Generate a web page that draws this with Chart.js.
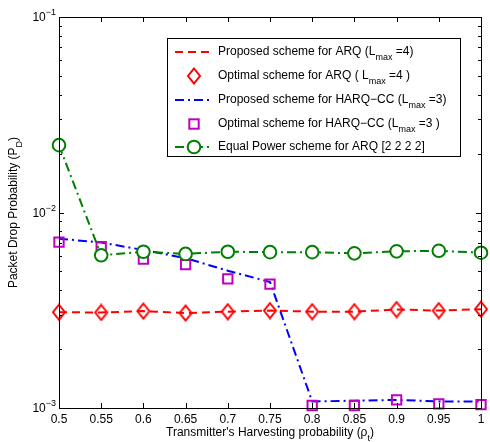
<!DOCTYPE html>
<html>
<head>
<meta charset="utf-8">
<script src="https://cdn.jsdelivr.net/npm/chart.js@4.4.1/dist/chart.umd.min.js"></script>
<style>
  html, body { margin: 0; padding: 0; background: #fff; }
  #wrap { width: 490px; height: 442px; position: relative; }
</style>
</head>
<body>
<div id="wrap"><canvas id="pdChart" width="490" height="442"></canvas></div>
<script>
// Harvesting probability (x axis)
const rhoValues = [0.5, 0.55, 0.6, 0.65, 0.7, 0.75, 0.8, 0.85, 0.9, 0.95, 1];
const xTickValues = [0.5, 0.55, 0.6, 0.65, 0.7, 0.75, 0.8, 0.85, 0.9, 0.95, 1];
const yDecades = [-3, -2, -1];

// Packet drop probability
const arqProposed = [3.09e-3, 3.08e-3, 3.13e-3, 3.06e-3, 3.11e-3, 3.15e-3, 3.11e-3, 3.11e-3, 3.19e-3, 3.15e-3, 3.20e-3];
const arqOptimal = [3.09e-3, 3.08e-3, 3.13e-3, 3.06e-3, 3.11e-3, 3.15e-3, 3.11e-3, 3.11e-3, 3.19e-3, 3.15e-3, 3.20e-3];
const harqProposed = [7.35e-3, 7.02e-3, 6.43e-3, 5.84e-3, 5.04e-3, 4.41e-3, 1.08e-3, 1.09e-3, 1.10e-3, 1.08e-3, 1.08e-3];
const harqOptimal = [7.06e-3, 6.68e-3, 5.77e-3, 5.41e-3, 4.58e-3, 4.30e-3, 1.03e-3, 1.03e-3, 1.10e-3, 1.05e-3, 1.04e-3];
const equalPower = [2.21e-2, 6.04e-3, 6.30e-3, 6.14e-3, 6.30e-3, 6.27e-3, 6.27e-3, 6.18e-3, 6.33e-3, 6.37e-3, 6.23e-3];

const FONT = '"Liberation Sans", Arial, Helvetica, sans-serif';
const RED = "#ff0000";
const BLUE = "#0000ff";
const MAGENTA = "#c000c0";
const GREEN = "#008000";

// MATLAB style diamond (taller than wide)
function makeDiamond(color) {
  const c = document.createElement("canvas");
  c.width = 16;
  c.height = 18;
  const g = c.getContext("2d");
  g.strokeStyle = color;
  g.lineWidth = 2;
  g.beginPath();
  g.moveTo(8, 1.5);
  g.lineTo(14, 9);
  g.lineTo(8, 16.5);
  g.lineTo(2, 9);
  g.closePath();
  g.stroke();
  return c;
}
const diamond = makeDiamond(RED);

function pairs(ys) {
  return rhoValues.map(function (x, i) { return { x: x, y: ys[i] }; });
}

// text with a sub/superscript part: parts = [[text, kind], ...]
function drawRich(ctx, parts, x, y, size) {
  let cx = x;
  parts.forEach(function (p) {
    const kind = p[1] || "n";
    const fs = kind === "n" ? size : Math.round(size * 0.75);
    ctx.font = fs + "px " + FONT;
    const dy = kind === "sub" ? size * 0.42 : kind === "sup" ? -size * 0.45 : 0;
    ctx.fillText(p[0], cx, y + dy);
    cx += ctx.measureText(p[0]).width;
  });
  return cx;
}

function richWidth(ctx, parts, size) {
  let w = 0;
  parts.forEach(function (p) {
    const kind = p[1] || "n";
    const fs = kind === "n" ? size : Math.round(size * 0.75);
    ctx.font = fs + "px " + FONT;
    w += ctx.measureText(p[0]).width;
  });
  return w;
}

const matlabAxes = {
  id: "matlabAxes",
  afterDraw(chart) {
    const ctx = chart.ctx;
    const a = chart.chartArea;
    const xs = chart.scales.x;
    const ys = chart.scales.y;
    ctx.save();
    ctx.strokeStyle = "#000";
    ctx.lineWidth = 1;

    // box
    ctx.strokeRect(Math.round(a.left) + 0.5, Math.round(a.top) + 0.5,
      Math.round(a.right - a.left), Math.round(a.bottom - a.top));

    // x ticks (inward, top and bottom)
    ctx.beginPath();
    xTickValues.forEach(function (v) {
      const px = Math.round(xs.getPixelForValue(v)) + 0.5;
      ctx.moveTo(px, a.bottom); ctx.lineTo(px, a.bottom - 5);
      ctx.moveTo(px, a.top); ctx.lineTo(px, a.top + 5);
    });
    // y ticks: decades and minor
    yDecades.forEach(function (d) {
      const py = Math.round(ys.getPixelForValue(Math.pow(10, d))) + 0.5;
      ctx.moveTo(a.left, py); ctx.lineTo(a.left + 5, py);
      ctx.moveTo(a.right, py); ctx.lineTo(a.right - 5, py);
      if (d < -1) {
        for (let m = 2; m <= 9; m++) {
          const pm = Math.round(ys.getPixelForValue(m * Math.pow(10, d))) + 0.5;
          ctx.moveTo(a.left, pm); ctx.lineTo(a.left + 3, pm);
          ctx.moveTo(a.right, pm); ctx.lineTo(a.right - 3, pm);
        }
      }
    });
    ctx.stroke();

    // y tick labels 10^d
    ctx.fillStyle = "#000";
    ctx.textBaseline = "middle";
    ctx.textAlign = "left";
    yDecades.forEach(function (d) {
      const py = ys.getPixelForValue(Math.pow(10, d));
      const parts = [["10"], ["\u2212" + Math.abs(d), "sup"]];
      const w = richWidth(ctx, parts, 12);
      drawRich(ctx, parts, a.left - 3 - w, py + 1, 12);
    });

    // axis titles
    ctx.textAlign = "left";
    const xt = [["Transmitter's Harvesting probability (\u03c1"], ["t", "sub"], [")"]];
    const xw = richWidth(ctx, xt, 12);
    drawRich(ctx, xt, (a.left + a.right) / 2 - xw / 2, 433, 12);

    const yt = [["Packet Drop Probability (P"], ["D", "sub"], [")"]];
    const yw = richWidth(ctx, yt, 12);
    ctx.save();
    ctx.translate(14, (a.top + a.bottom) / 2);
    ctx.rotate(-Math.PI / 2);
    drawRich(ctx, yt, -yw / 2, 0, 12);
    ctx.restore();

    // legend box
    const lx = 167, ly = 38, lw = 293, lh = 118;
    ctx.fillStyle = "#fff";
    ctx.fillRect(lx, ly, lw, lh);
    ctx.strokeRect(lx + 0.5, ly + 0.5, lw, lh);

    const ds = chart.data.datasets;
    const rows = [
      { y: 52, line: ds[0], text: [["Proposed scheme for ARQ (L"], ["max", "sub"], [" =4)"]] },
      { y: 76, mark: "diamond", text: [["Optimal scheme for ARQ ( L"], ["max", "sub"], [" =4 )"]] },
      { y: 100, line: ds[2], text: [["Proposed scheme for HARQ\u2212CC (L"], ["max", "sub"], [" =3)"]] },
      { y: 124, mark: "square", text: [["Optimal scheme for HARQ\u2212CC (L"], ["max", "sub"], [" =3 )"]] },
      { y: 147, line: ds[4], mark: "circle", text: [["Equal Power scheme for ARQ [2 2 2 2]"]] }
    ];
    rows.forEach(function (r) {
      if (r.line) {
        ctx.save();
        ctx.strokeStyle = r.line.borderColor;
        ctx.lineWidth = r.line.borderWidth;
        ctx.setLineDash(r.line.borderDash || []);
        ctx.beginPath();
        ctx.moveTo(175, r.y);
        ctx.lineTo(213, r.y);
        ctx.stroke();
        ctx.restore();
      }
      if (r.mark === "diamond") {
        ctx.drawImage(diamond, 194 - diamond.width / 2, r.y - diamond.height / 2);
      } else if (r.mark === "square") {
        ctx.save();
        ctx.strokeStyle = MAGENTA;
        ctx.lineWidth = 2;
        ctx.strokeRect(194 - 4.7, r.y - 4.7, 9.4, 9.4);
        ctx.restore();
      } else if (r.mark === "circle") {
        ctx.save();
        ctx.strokeStyle = GREEN;
        ctx.fillStyle = "#fff";
        ctx.lineWidth = 2;
        ctx.beginPath();
        ctx.arc(194, r.y, 6.3, 0, Math.PI * 2);
        ctx.fill();
        ctx.stroke();
        ctx.restore();
      }
      ctx.fillStyle = "#000";
      drawRich(ctx, r.text, 218, r.y, 12);
    });
    ctx.restore();
  }
};

new Chart(document.getElementById("pdChart").getContext("2d"), {
  type: "line",
  data: {
    datasets: [
      {
        label: "Proposed scheme for ARQ",
        data: pairs(arqProposed),
        borderColor: RED,
        borderWidth: 2,
        borderDash: [8, 5],
        pointRadius: 0,
        order: 5
      },
      {
        label: "Optimal scheme for ARQ",
        data: pairs(arqOptimal),
        showLine: false,
        pointStyle: diamond,
        pointRadius: 8,
        borderColor: RED,
        order: 4
      },
      {
        label: "Proposed scheme for HARQ-CC",
        data: pairs(harqProposed),
        borderColor: BLUE,
        borderWidth: 2,
        borderDash: [9, 4, 2, 4],
        pointRadius: 0,
        order: 3
      },
      {
        label: "Optimal scheme for HARQ-CC",
        data: pairs(harqOptimal),
        showLine: false,
        pointStyle: "rect",
        pointRadius: 6.6,
        pointBorderWidth: 2,
        pointBorderColor: MAGENTA,
        pointBackgroundColor: "rgba(0,0,0,0)",
        borderColor: MAGENTA,
        order: 2
      },
      {
        label: "Equal Power scheme for ARQ",
        data: pairs(equalPower),
        borderColor: GREEN,
        borderWidth: 2,
        borderDash: [9, 4, 2, 4],
        pointStyle: "circle",
        pointRadius: 6.3,
        pointBorderWidth: 2,
        pointBorderColor: GREEN,
        pointBackgroundColor: "#fff",
        order: 1
      }
    ]
  },
  options: {
    animation: false,
    responsive: false,
    clip: false,
    layout: { padding: { top: 17, right: 5, left: 0, bottom: 0 } },
    plugins: {
      legend: { display: false },
      tooltip: { enabled: false }
    },
    scales: {
      x: {
        type: "linear",
        min: 0.5,
        max: 1,
        afterBuildTicks: function (scale) {
          scale.ticks = xTickValues.map(function (v) { return { value: v }; });
        },
        afterFit: function (scale) { scale.height = 34; },
        ticks: {
          color: "#000",
          font: { family: FONT, size: 12 },
          padding: 4,
          maxRotation: 0,
          autoSkip: false,
          callback: function (v) { return String(Number(Number(v).toFixed(2))); }
        },
        grid: { display: false, drawTicks: false },
        border: { display: false }
      },
      y: {
        type: "logarithmic",
        min: 0.001,
        max: 0.1,
        afterFit: function (scale) { scale.width = 59; },
        ticks: { display: false },
        grid: { display: false, drawTicks: false },
        border: { display: false }
      }
    }
  },
  plugins: [matlabAxes]
});
</script>
</body>
</html>
